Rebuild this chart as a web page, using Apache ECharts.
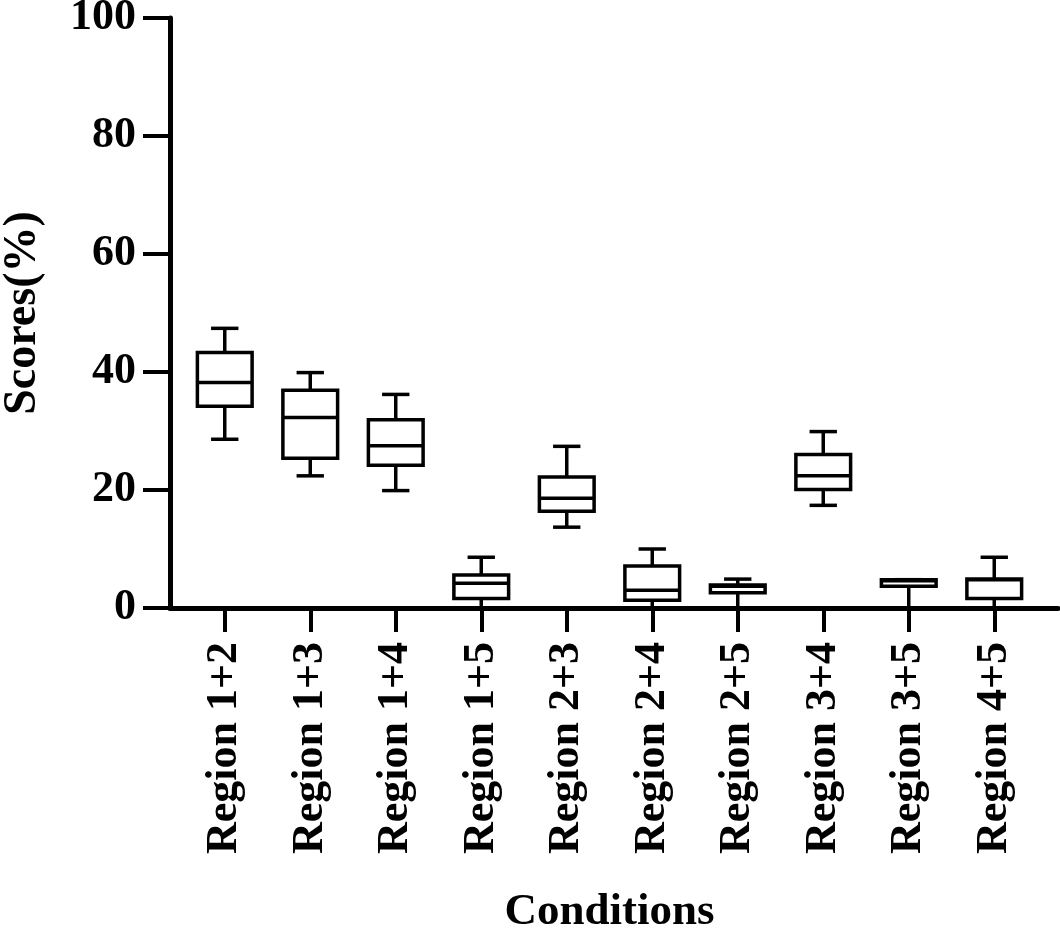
<!DOCTYPE html>
<html>
<head>
<meta charset="utf-8">
<style>
  html, body { margin: 0; padding: 0; background: #fff; }
  #chart { width: 1060px; height: 928px; }
</style>
<script src="https://cdn.jsdelivr.net/npm/echarts@6/dist/echarts.min.js"></script>
</head>
<body>
<div id="chart"></div>
<script>
// ── Data ────────────────────────────────────────────────────────────────────
const categories = [
  "Region 1+2", "Region 1+3", "Region 1+4", "Region 1+5", "Region 2+3",
  "Region 2+4", "Region 2+5", "Region 3+4", "Region 3+5", "Region 4+5"
];
const whiskerLow  = [28.6, 22.4, 19.9, 0.0, 13.7, 0.0, 0.0, 17.4, 0.0, 0.0];
const quart1      = [34.2, 25.4, 24.2, 1.6, 16.4, 1.3, 2.6, 20.1, 3.7, 1.6];
const medians     = [38.2, 32.3, 27.5, 4.2, 18.6, 3.0, 3.7, 22.4, 4.6, 4.8];
const quart3      = [43.3, 36.9, 31.9, 5.6, 22.2, 7.1, 3.9, 26.0, 4.8, 4.9];
const whiskerHigh = [47.4, 39.9, 36.2, 8.6, 27.4, 10.0, 4.9, 29.9, 4.8, 8.6];
const yTicks = [0, 20, 40, 60, 80, 100];

const FONT = "'Liberation Serif', 'Times New Roman', serif";

(function () {
  const chart = echarts.init(document.getElementById("chart"));

  // [index, low, q1, median, q3, high]
  const boxData = categories.map((c, i) => [
    i, whiskerLow[i], quart1[i], medians[i], quart3[i], whiskerHigh[i]
  ]);

  // Box with half-width whisker caps (as in the reference)
  function renderBox(params, api) {
    const idx = api.value(0);
    const band = api.size([1, 0])[0];
    const boxHalf = band * 0.32;
    const capHalf = band * 0.16;
    const pt = (v) => api.coord([idx, v]);
    const low = pt(api.value(1));
    const q1 = pt(api.value(2));
    const med = pt(api.value(3));
    const q3 = pt(api.value(4));
    const high = pt(api.value(5));
    const cx = low[0];
    const style = { stroke: "#000", lineWidth: 3.5, fill: null };
    const line = (x1, y1, x2, y2) => ({
      type: "line",
      shape: { x1, y1, x2, y2 },
      style: style,
    });
    return {
      type: "group",
      children: [
        line(cx, high[1], cx, q3[1]),
        line(cx, q1[1], cx, low[1]),
        line(cx - capHalf, high[1], cx + capHalf, high[1]),
        line(cx - capHalf, low[1], cx + capHalf, low[1]),
        {
          type: "rect",
          shape: { x: cx - boxHalf, y: q3[1], width: boxHalf * 2, height: q1[1] - q3[1] },
          style: { stroke: "#000", lineWidth: 3.5, fill: "#fff" },
        },
        line(cx - boxHalf, med[1], cx + boxHalf, med[1]),
      ],
    };
  }

  const option = {
    backgroundColor: "#fff",
    animation: false,
    grid: [
      { left: 182, right: 23, top: 18, bottom: 320, outerBoundsMode: "none" },
      // wider grid only to carry the full-length x axis line
      { left: 170, right: 2, top: 18, bottom: 320, outerBoundsMode: "none" },
    ],
    xAxis: [
      {
        type: "category",
        gridIndex: 0,
        data: categories,
        boundaryGap: true,
        name: "Conditions",
        nameLocation: "middle",
        nameGap: 282,
        nameTextStyle: { fontFamily: FONT, fontWeight: "bold", fontSize: 45, color: "#000" },
        axisLine: { show: false },
        axisTick: {
          show: true,
          alignWithLabel: true,
          length: 24,
          lineStyle: { color: "#000", width: 4 },
        },
        axisLabel: {
          rotate: 90,
          margin: 34,
          interval: 0,
          fontFamily: FONT,
          fontWeight: "bold",
          fontSize: 44,
          color: "#000",
        },
        splitLine: { show: false },
      },
      {
        type: "value",
        gridIndex: 1,
        min: 0,
        max: 1,
        axisLine: { show: true, lineStyle: { color: "#000", width: 5 } },
        axisTick: { show: false },
        axisLabel: { show: false },
        splitLine: { show: false },
      },
    ],
    yAxis: [
      {
        type: "value",
        gridIndex: 0,
        min: 0,
        max: 100,
        interval: 20,
        offset: 12,
        name: "Scores(%)",
        nameLocation: "middle",
        nameGap: 124,
        nameTextStyle: { fontFamily: FONT, fontWeight: "bold", fontSize: 46, color: "#000" },
        axisLine: { show: true, lineStyle: { color: "#000", width: 5 } },
        axisTick: { show: true, length: 27, lineStyle: { color: "#000", width: 4 } },
        axisLabel: {
          margin: 34,
          fontFamily: FONT,
          fontWeight: "bold",
          fontSize: 44,
          color: "#000",
          formatter: (v) => (yTicks.includes(v) ? String(v) : ""),
        },
        splitLine: { show: false },
      },
      {
        type: "value",
        gridIndex: 1,
        min: 0,
        max: 100,
        show: false,
      },
    ],
    series: [
      {
        type: "custom",
        xAxisIndex: 0,
        yAxisIndex: 0,
        renderItem: renderBox,
        encode: { x: 0, y: [1, 2, 3, 4, 5] },
        data: boxData,
        clip: false,
      },
    ],
  };

  chart.setOption(option);
  window.addEventListener("resize", () => chart.resize());
})();
</script>
</body>
</html>
